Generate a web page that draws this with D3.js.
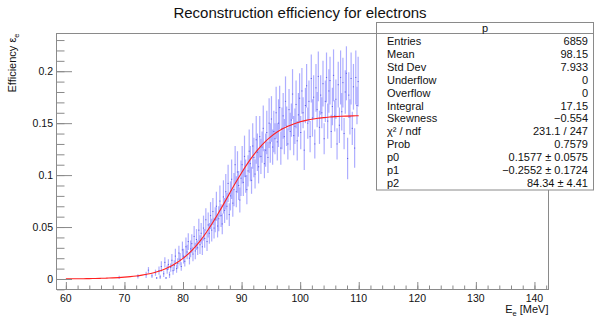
<!DOCTYPE html>
<html><head><meta charset="utf-8">
<script src="https://cdn.jsdelivr.net/npm/d3@7"></script>
<style>
body{margin:0;background:#fff}
svg{display:block;font-family:"Liberation Sans",Arial,Helvetica,sans-serif}
</style>
</head><body>
<svg id="chart" width="595" height="320"></svg>
<script>
// ---- data ----
const titleText = "Reconstruction efficiency for electrons";
const binLow = 69.0, binWidth = 0.2;
// profile bin contents (units of 1e-3), one entry per 0.2 MeV bin from 69.0 to 110.0
const effValues = [
 1.5,null,null,null,null,
 null,null,null,null,null,
 null,null,null,null,null,
 null,2.5,null,null,null,
 null,null,null,4,null,
 8.5,null,null,3,null,
 null,6,1,null,8,
 2,12,null,5,16,
 1,9,14,4,11,
 18,8,13,22,10,
 15,25,19,12,28,
 22,17,31,26,36,
 20,29,34,24,41,
 27,38,30,47,33,
 44,31,49,39,57,
 36,52,44,61,47,
 65,49,57,70,51,
 58,75,61,53,79,
 66,84,70,92,62,
 80,96,73,86,110,
 84,103,90,76,97,
 110,93,118,99,86,
 104,123,111,95,128,
 117,101,134,122,108,
 137,118,127,145,111,
 124,141,117,150,131,
 154,127,142,135,160,
 132,150,165,126,145,
 157,137,171,147,130,
 163,142,153,178,138,
 147,168,133,158,174,
 141,181,160,124,167,
 186,150,171,137,193,
 155,175,130,184,163,
 195,146,177,160,188,
 135,171,194,152,181,
 191,142,166,196,157,
 173,130,187,148,194,
 161,189,140,180,198,
 116,177,156,193,145,
 185,126,194,167,190
];
// bin errors (units of 1e-3)
const effErrors = [
 1.5,0,0,0,0,
 0,0,0,0,0,
 0,0,0,0,0,
 0,2,0,0,0,
 0,0,0,3,0,
 3,0,0,2,0,
 0,3,1,0,4,
 2,5,0,3,5,
 1,4,5,3,4,
 6,4,5,7,4,
 5,7,6,4,8,
 7,5,9,7,8,
 6,8,9,7,10,
 8,10,7,11,9,
 10,8,12,9,11,
 9,12,10,13,11,
 13,10,12,14,11,
 12,15,11,10,16,
 12,17,13,18,11,
 14,19,13,16,18,
 15,20,14,12,17,
 18,13,20,16,14,
 15,21,17,13,22,
 19,14,23,18,16,
 20,17,15,22,14,
 16,21,15,24,19,
 22,17,20,15,25,
 18,23,21,16,20,
 22,17,24,19,15,
 20,18,16,24,19,
 17,23,19,21,24,
 16,22,15,19,17,
 21,15,20,15,23,
 18,21,14,23,17,
 24,16,19,15,22,
 15,20,24,17,21,
 23,16,18,25,15,
 19,15,22,17,26,
 18,24,15,21,26,
 20,22,17,25,16,
 22,19,26,18,24
];
// fitted curve (energy in MeV, value in units of 1e-3)
const fitEnergies = [60,61,62,63,64,65,66,67,68,69,70,71,72,73,74,75,76,77,78,79,80,81,82,83,84,85,86,87,88,89,90,91,92,93,94,95,96,97,98,99,100,101,102,103,104,105,106,107,108,109,110];
const fitValues = [0.14,0.18,0.23,0.30,0.38,0.49,0.64,0.82,1.05,1.35,1.75,2.25,2.89,3.71,4.75,6.09,7.75,9.89,12.5,15.8,19.8,24.7,30.5,37.2,45.0,53.6,63.0,72.8,82.9,92.8,102.3,111.1,119.0,126.0,132.0,137.0,141.2,144.6,147.3,149.5,151.3,152.7,153.8,154.7,155.3,155.9,156.3,156.6,156.8,157.0,157.2];
const xMajorTicks = [60,70,80,90,100,110,120,130,140];
const xMajorLabels = ["60","70","80","90","100","110","120","130","140"];
const xMinorTicks = [60,62,64,66,68,70,72,74,76,78,80,82,84,86,88,90,92,94,96,98,100,102,104,106,108,110,112,114,116,118,120,122,124,126,128,130,132,134,136,138,140,142];
const yMajorTicks = [0,0.05,0.1,0.15,0.2];
const yMajorLabels = ["0","0.05","0.1","0.15","0.2"];
const yMinorTicks = [-0.01,0,0.01,0.02,0.03,0.04,0.05,0.06,0.07,0.08,0.09,0.1,0.11,0.12,0.13,0.14,0.15,0.16,0.17,0.18,0.19,0.2,0.21,0.22,0.23];
const statsTitle = "p";
const statLabels = ["Entries","Mean","Std Dev","Underflow","Overflow","Integral","Skewness","χ² / ndf","Prob","p0","p1","p2"];
const statValues = ["6859","98.15","7.933","0","0","17.15","−0.554","231.1 / 247","0.7579","0.1577 ± 0.0575","−0.2552 ± 0.1724","84.34 ± 4.41"];

// ---- layout ----
const svg = d3.select("#chart");
const L = 56.5, R = 548.5, T = 33.5, B = 289.5;
const x = d3.scaleLinear().domain([58.4, 142.4]).range([56.5, 548.5]);
const y = d3.scaleLinear().domain([-0.0106, 0.2365]).range([290, 33.3]);
const axisColor = "#8a8a8a", textColor = "#111";

// title
svg.append("text").attr("x", 300).attr("y", 17.5).attr("text-anchor", "middle")
  .attr("font-size", 15).attr("fill", textColor).text(titleText);

// data points
const pts = effValues.map((v, i) => ({
  lo: binLow + i * binWidth, hi: binLow + (i + 1) * binWidth,
  c: binLow + (i + 0.5) * binWidth, v: v == null ? null : v / 1000, e: effErrors[i] / 1000
})).filter(d => d.v != null);

const gData = svg.append("g");
gData.selectAll("line.err").data(pts).join("line").attr("class", "err")
  .attr("x1", d => x(d.c)).attr("x2", d => x(d.c))
  .attr("y1", d => y(d.v - d.e)).attr("y2", d => y(d.v + d.e))
  .attr("stroke", "rgb(125,125,255)").attr("stroke-opacity", 0.62).attr("stroke-width", 1.2);
gData.selectAll("line.mk").data(pts).join("line").attr("class", "mk")
  .attr("x1", d => x(d.lo)).attr("x2", d => x(d.hi))
  .attr("y1", d => y(d.v)).attr("y2", d => y(d.v))
  .attr("stroke", "rgb(70,70,225)").attr("stroke-opacity", 0.75).attr("stroke-width", 1);

// fit curve
const fitData = fitEnergies.map((e, i) => [e, fitValues[i] / 1000]);
svg.append("path").datum(fitData)
  .attr("d", d3.line().x(d => x(d[0])).y(d => y(d[1])).curve(d3.curveMonotoneX))
  .attr("fill", "none").attr("stroke", "#ff2020").attr("stroke-width", 1.1);

// frame
svg.append("rect").attr("x", L).attr("y", T).attr("width", R - L).attr("height", B - T)
  .attr("fill", "none").attr("stroke", axisColor).attr("stroke-width", 1);

// x axis ticks
const gxMinor = svg.append("g").attr("transform", `translate(0,${B - 0.5})`)
  .call(d3.axisBottom(x).tickValues(xMinorTicks).tickSize(-3.5).tickFormat(""));
const gxMajor = svg.append("g").attr("transform", `translate(0,${B - 0.5})`)
  .call(d3.axisBottom(x).tickValues(xMajorTicks).tickSize(-7).tickFormat(""));
// y axis ticks
const gyMinor = svg.append("g").attr("transform", `translate(${L + 0.5},0)`)
  .call(d3.axisLeft(y).tickValues(yMinorTicks).tickSize(-7.5).tickFormat(""));
const gyMajor = svg.append("g").attr("transform", `translate(${L + 0.5},0)`)
  .call(d3.axisLeft(y).tickValues(yMajorTicks).tickSize(-15).tickFormat(""));
[gxMinor, gxMajor, gyMinor, gyMajor].forEach(g => {
  g.select(".domain").remove();
  g.selectAll("line").attr("stroke", axisColor);
});

// tick labels
svg.append("g").selectAll("text").data(xMajorTicks).join("text")
  .attr("x", d => x(d)).attr("y", 302).attr("text-anchor", "middle")
  .attr("font-size", 10.5).attr("fill", textColor).text((d, i) => xMajorLabels[i]);
svg.append("g").selectAll("text").data(yMajorTicks).join("text")
  .attr("x", 53).attr("y", d => y(d) + 3.8).attr("text-anchor", "end")
  .attr("font-size", 10.5).attr("fill", textColor).text((d, i) => yMajorLabels[i]);

// axis titles
const xt = svg.append("text").attr("x", R).attr("y", 313).attr("text-anchor", "end")
  .attr("font-size", 11).attr("fill", textColor);
xt.append("tspan").text("E");
xt.append("tspan").attr("font-size", 7.5).attr("dy", 2.5).text("e");
xt.append("tspan").attr("dy", -2.5).text(" [MeV]");

const yt = svg.append("text").attr("transform", `translate(16,${T}) rotate(-90)`).attr("text-anchor", "end")
  .attr("font-size", 11).attr("fill", textColor);
yt.append("tspan").text("Efficiency ε");
yt.append("tspan").attr("font-size", 7.5).attr("dy", 2.5).text("e");

// stats box
const sb = { x: 376.5, y: 22.5, w: 217, h: 167.5 };
svg.append("rect").attr("x", sb.x).attr("y", sb.y).attr("width", sb.w).attr("height", sb.h)
  .attr("fill", "#fff").attr("stroke", axisColor).attr("stroke-width", 1);
svg.append("line").attr("x1", sb.x).attr("x2", sb.x + sb.w).attr("y1", T).attr("y2", T)
  .attr("stroke", axisColor);
svg.append("text").attr("x", sb.x + sb.w / 2).attr("y", 31.5).attr("text-anchor", "middle")
  .attr("font-size", 11).attr("fill", textColor).text(statsTitle);
const rows = svg.append("g");
rows.selectAll("text.lab").data(statLabels).join("text").attr("class", "lab")
  .attr("x", 387).attr("y", (d, i) => 45 + 12.9 * i).attr("font-size", 11).attr("fill", textColor).text(d => d);
rows.selectAll("text.val").data(statValues).join("text").attr("class", "val")
  .attr("x", 588).attr("y", (d, i) => 45 + 12.9 * i).attr("text-anchor", "end")
  .attr("font-size", 11).attr("fill", textColor).text(d => d);
</script>
</body></html>
